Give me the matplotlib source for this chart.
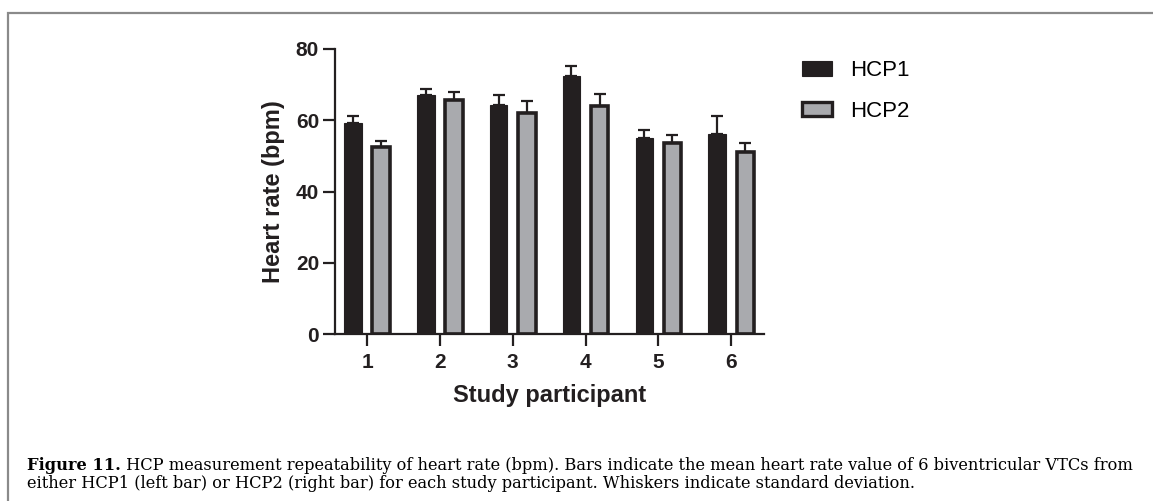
import matplotlib
matplotlib.use("Agg")
import matplotlib.pyplot as plt
from matplotlib.patches import Rectangle, Patch
from matplotlib import font_manager as fm
import numpy as np

participants = ["1", "2", "3", "4", "5", "6"]
hcp1_mean = [59.3, 67.0, 64.4, 72.4, 55.0, 56.2]
hcp1_sd = [1.9, 1.7, 2.8, 2.8, 2.3, 5.0]
hcp2_mean = [52.6, 65.8, 62.0, 64.0, 53.5, 51.1]
hcp2_sd = [1.6, 2.1, 3.5, 3.4, 2.3, 2.6]
series_labels = ["HCP1", "HCP2"]
yticks = [0, 20, 40, 60, 80]

caption_bold = "Figure 11."
caption_line1 = (" HCP measurement repeatability of heart rate (bpm). Bars indicate the mean heart rate "
                 "value of 6 biventricular VTCs from")
caption_line2 = ("either HCP1 (left bar) or HCP2 (right bar) for each study participant. "
                 "Whiskers indicate standard deviation.")


def find_font(name, bold):
    for f in fm.fontManager.ttflist:
        w = f.weight if isinstance(f.weight, int) else (700 if f.weight == "bold" else 400)
        if f.name == name and ((w >= 600) == bold) and f.style == "normal" \
                and "Narrow" not in f.fname:
            return f.fname
    return None


bold_path = find_font("Liberation Sans", True)
reg_path = find_font("Liberation Sans", False)


def sans(size, bold=True):
    p = bold_path if bold else reg_path
    if p:
        return fm.FontProperties(fname=p, size=size)
    return fm.FontProperties(family="DejaVu Sans", weight="bold" if bold else "normal", size=size)


W, H = 1153, 501
fig = plt.figure(figsize=(W / 100, H / 100), dpi=100)
fig.patch.set_facecolor("white")

# border frame
fig.add_artist(Rectangle((8 / W, -0.05), 1.2, 1 - 13 / H + 0.05, transform=fig.transFigure,
                         fill=False, edgecolor="#8a8a8a", linewidth=1.6, clip_on=False))

ax = fig.add_axes([335 / W, 1 - 334 / H, (764 - 335) / W, 285 / H])
x = np.arange(1, len(participants) + 1)
off = 0.193
bw = 0.24
black = "#231f20"
gray = "#a9aaae"
ax.bar(x - off, hcp1_mean, bw, color=black, edgecolor=black, linewidth=0.8, zorder=2)
ax.errorbar(x - off, hcp1_mean, yerr=[np.zeros(len(x)), hcp1_sd], fmt="none",
            ecolor=black, elinewidth=1.6, capsize=4, capthick=1.6, zorder=1)
ax.bar(x + off, hcp2_mean, bw, color=gray, edgecolor=black, linewidth=2.6, zorder=2)
ax.errorbar(x + off, hcp2_mean, yerr=[np.zeros(len(x)), hcp2_sd], fmt="none",
            ecolor=black, elinewidth=1.6, capsize=4, capthick=1.6, zorder=1)

ax.set_xlim(0.56, 6.45)
ax.set_ylim(0, 80)
ax.set_yticks(yticks)
ax.set_xticks(x)
ax.set_xticklabels(participants)
for s in ["top", "right"]:
    ax.spines[s].set_visible(False)
for s in ["left", "bottom"]:
    ax.spines[s].set_linewidth(1.6)
    ax.spines[s].set_color(black)
ax.tick_params(axis="both", direction="out", length=8.5, width=1.6, color=black, pad=3)
ax.tick_params(axis="x", pad=5)
for lab in ax.get_xticklabels() + ax.get_yticklabels():
    lab.set_fontproperties(sans(15))
    lab.set_color(black)
ax.set_ylabel("Heart rate (bpm)", fontproperties=sans(17), color=black, labelpad=8)
ax.set_xlabel("Study participant", fontproperties=sans(17), color=black, labelpad=9)

handles = [Patch(facecolor=black, edgecolor=black, linewidth=0.8),
           Patch(facecolor=gray, edgecolor=black, linewidth=2.4)]
fig.legend(handles, series_labels, loc="upper left", bbox_to_anchor=(802 / W, 1 - 60 / H),
           frameon=False, prop=sans(16, bold=False),
           handlelength=1.36, handleheight=0.64, handletextpad=0.8, labelspacing=0.89,
           borderpad=0, borderaxespad=0)

# caption, sized to span the same width as the reference
fam = "DejaVu Serif"
fs = 11.0
fig.canvas.draw()
r = fig.canvas.get_renderer()
tb = fig.text(0, 0, caption_bold, fontsize=fs, fontweight="bold", family=fam)
tr = fig.text(0, 0, caption_line1, fontsize=fs, family=fam)
wtot = tb.get_window_extent(r).width + tr.get_window_extent(r).width
tb.remove(); tr.remove()
fs = fs * (1128 - 27) / wtot

t1 = fig.text(27 / W, 1 - 465 / H, caption_bold, fontsize=fs, fontweight="bold",
              family=fam, va="center", ha="left")
fig.canvas.draw()
bb = t1.get_window_extent()
fig.text(bb.x1 / W, 1 - 465 / H, caption_line1, fontsize=fs,
         family=fam, va="center", ha="left")
fig.text(27 / W, 1 - 484 / H, caption_line2, fontsize=fs,
         family=fam, va="center", ha="left")

fig.savefig("out.png", dpi=100)
